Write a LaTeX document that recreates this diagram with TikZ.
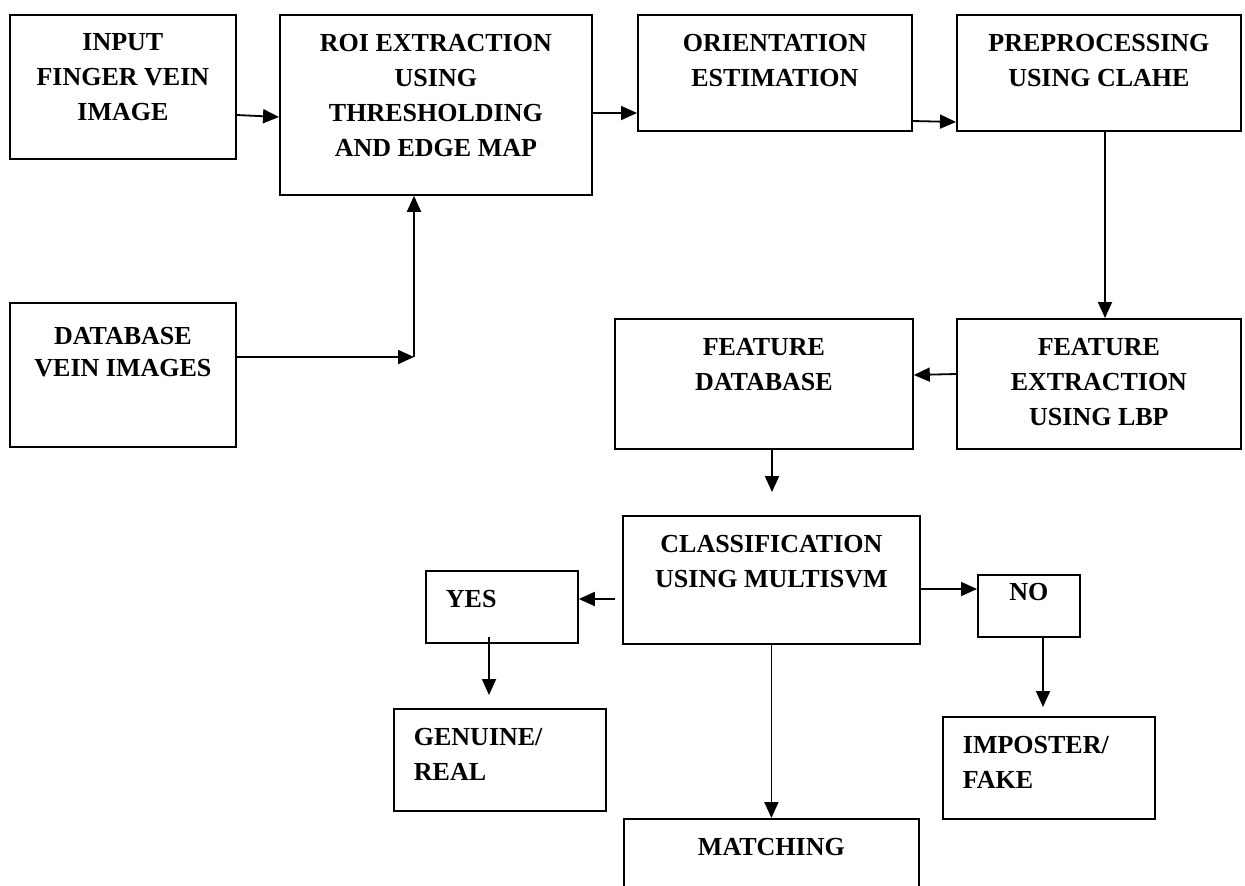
\documentclass[tikz,border=0pt]{standalone}
\usepackage{fontspec}
\setmainfont{Liberation Serif}
\usetikzlibrary{arrows.meta}
\begin{document}
\begin{tikzpicture}[x=1pt, y=-1pt, line width=1.8pt,
    box/.style={draw, anchor=north west, inner sep=0pt},
    txt/.style={anchor=north, inner xsep=0pt, inner ysep=19pt, align=center, font=\fontsize{26}{35}\selectfont\bfseries},
    txtl/.style={txt, anchor=north west, inner xsep=20pt, align=left},
    every edge/.style={draw, -{Triangle[length=16pt,width=14pt]}}]
    \useasboundingbox (0,0) rectangle (1245,886);
    \clip (0,0) rectangle (1245,886);
    \node [box, minimum width=226pt, minimum height=144pt, label={[txt]north:{INPUT\\FINGER VEIN\\IMAGE}}] (Input) at (9,14) {};
    \node [box, minimum width=312pt, minimum height=180pt, label={[txt]north:{ROI EXTRACTION\\USING\\THRESHOLDING\\AND EDGE MAP}}] (Roi) at (279,14) {};
    \node [box, minimum width=274pt, minimum height=116pt, label={[txt]north:{ORIENTATION\\ESTIMATION}}] (Orient) at (637,14) {};
    \node [box, minimum width=284pt, minimum height=116pt, label={[txt]north:{PREPROCESSING\\USING CLAHE}}] (Prep) at (956,14) {};
    \node [box, minimum width=226pt, minimum height=144pt, label={[txt, inner ysep=24pt, font=\fontsize{26}{32}\selectfont\bfseries]north:{DATABASE\\VEIN IMAGES}}] (Db) at (9,302) {};
    \node [box, minimum width=298pt, minimum height=130pt, label={[txt]north:{FEATURE\\DATABASE}}] (FeatDb) at (614,318) {};
    \node [box, minimum width=284pt, minimum height=130pt, label={[txt]north:{FEATURE\\EXTRACTION\\USING LBP}}] (Fex) at (956,318) {};
    \node [box, minimum width=297pt, minimum height=128pt, label={[txt]north:{CLASSIFICATION\\USING MULTISVM}}] (Class) at (622,515) {};
    \node [box, minimum width=152pt, minimum height=72pt, label={[txtl]north west:YES}] (Yes) at (425,570) {};
    \node [box, minimum width=102pt, minimum height=62pt, label={[txt, inner ysep=8pt]north:NO}] (No) at (977,574) {};
    \node [box, minimum width=212pt, minimum height=102pt, label={[txtl]north west:{GENUINE/\\REAL}}] (Gen) at (393,708) {};
    \node [box, minimum width=212pt, minimum height=102pt, label={[txtl]north west:{IMPOSTER/\\FAKE}}] (Imp) at (942,716) {};
    \node [box, minimum width=295pt, minimum height=100pt, label={[txt]north:MATCHING}] (Match) at (623,818) {};
    \coordinate (Corner) at (414,357);
    \coordinate (FeatDbTip) at (772,492);
    \coordinate (GenTip) at (489,695);
    \coordinate (ImpTip) at (1043,707);
    \path (Input.east |- 0,115) edge (Roi.west |- 0,117);
    \path (Roi.east |- 0,113) edge (Orient.west |- 0,113);
    \path (Orient.east |- 0,121) edge (Prep.west |- 0,122);
    \path (Prep.south -| 1105,0) edge (Fex.north -| 1105,0);
    \path (Fex.west |- 0,374) edge (FeatDb.east |- 0,375);
    \path (FeatDb.south -| FeatDbTip) edge (FeatDbTip);
    \path[shorten <=7pt] (Class.west |- 0,599) edge (Yes.east |- 0,599);
    \path (Class.east |- 0,589) edge (No.west |- 0,589);
    \path[shorten <=-7pt] (Yes.south -| GenTip) edge (GenTip);
    \path (Class.south) edge (Match.north);
    \path (No.south -| ImpTip) edge (ImpTip);
    \path (Db.east |- Corner) edge (Corner);
    \path (Corner) edge (Roi.south -| Corner);
\end{tikzpicture}
\end{document}
